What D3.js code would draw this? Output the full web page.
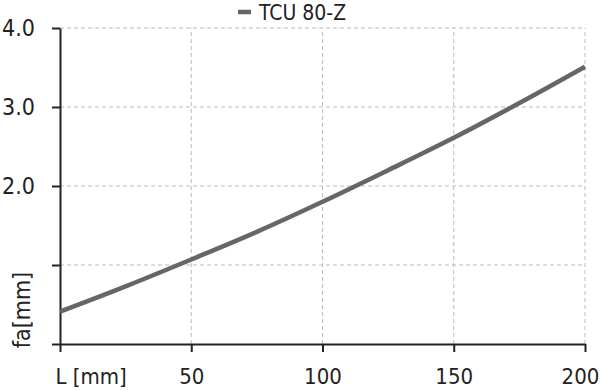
<html>

<head>
    <script src="https://d3js.org/d3.v7.min.js"></script>
</head>

<body style="margin:0;background:white">
    <svg></svg>
    <script>
        // data
        const seriesName = "TCU 80-Z"
        const L = [0, 25, 50, 75, 100, 125, 150, 175, 200]
        const fa = [0.41, 0.73, 1.07, 1.42, 1.80, 2.20, 2.61, 3.05, 3.51]
        const xTicks = [0, 50, 100, 150, 200]
        const yTicks = [0, 1, 2, 3, 4]
        const yTickLabels = ["", "", "2.0", "3.0", "4.0"]
        const xTitle = "L [mm]"
        const yTitle = "fa[mm]"

        const width = 600
        const height = 390
        const marginLeft = 60
        const marginRight = 15
        const marginTop = 28
        const marginBottom = 46
        const font = "'DejaVu Sans Condensed', sans-serif"
        const lineColor = "#666"
        const gridColor = "#bbb"

        const xScale = d3.scaleLinear([0, 200], [marginLeft, width - marginRight])
        const yScale = d3.scaleLinear([0, 4], [height - marginBottom, marginTop])

        const svg = d3.select("svg")
            .attr("width", width)
            .attr("height", height)
            .attr("viewBox", [0, 0, width, height])
            .style("font-family", font)

        // grid
        svg.append("g")
            .selectAll("line")
            .data(xTicks.slice(1))
            .join("line")
            .attr("x1", d => xScale(d)).attr("x2", d => xScale(d))
            .attr("y1", yScale(0)).attr("y2", yScale(4))
            .attr("stroke", gridColor)
            .attr("stroke-dasharray", "4,3")
        svg.append("g")
            .selectAll("line")
            .data(yTicks.slice(1))
            .join("line")
            .attr("x1", xScale(0)).attr("x2", xScale(200))
            .attr("y1", d => yScale(d)).attr("y2", d => yScale(d))
            .attr("stroke", gridColor)
            .attr("stroke-dasharray", "4,3")

        // x axis
        const xAxis = d3.axisBottom(xScale)
            .tickValues(xTicks)
            .tickSize(8)
            .tickSizeOuter(0)
            .tickPadding(16)
            .tickFormat(d => d === 0 ? xTitle : d)
        svg.append("g")
            .attr("transform", `translate(0,${yScale(0)})`)
            .call(xAxis)
            .call(g => g.selectAll("path, line").attr("stroke", "#222").attr("stroke-width", 2))
            .call(g => g.selectAll("text")
                .attr("fill", "#222")
                .attr("font-size", 22)
                .attr("font-family", font)
                .attr("text-anchor", d => d === 0 ? "start" : "middle")
                .attr("dx", d => d === 0 ? -5 : d === 200 ? -5 : 0))

        // y axis
        const yAxis = d3.axisLeft(yScale)
            .tickValues(yTicks)
            .tickSize(8)
            .tickSizeOuter(0)
            .tickPadding(17)
            .tickFormat((d, i) => yTickLabels[i])
        svg.append("g")
            .attr("transform", `translate(${marginLeft},0)`)
            .call(yAxis)
            .call(g => g.selectAll("path, line").attr("stroke", "#222").attr("stroke-width", 2))
            .call(g => g.selectAll("text")
                .attr("fill", "#222")
                .attr("font-size", 23)
                .attr("font-family", font))

        // y title, rotated
        svg.append("text")
            .attr("transform", `translate(30,${yScale(0.43)}) rotate(-90)`)
            .attr("text-anchor", "middle")
            .attr("font-size", 23)
            .attr("fill", "#222")
            .text(yTitle)

        // curve
        const line = d3.line()
            .curve(d3.curveMonotoneX)
            .x((d, i) => xScale(L[i]))
            .y(d => yScale(d))
        svg.append("path")
            .attr("fill", "none")
            .attr("stroke", lineColor)
            .attr("stroke-width", 4.5)
            .attr("d", line(fa))

        // legend
        const legend = svg.append("g").attr("transform", "translate(238,12)")
        legend.append("line")
            .attr("x1", 0).attr("x2", 13)
            .attr("stroke", lineColor)
            .attr("stroke-width", 4.5)
        legend.append("text")
            .attr("x", 21)
            .attr("y", 8)
            .attr("font-size", 21)
            .attr("fill", "#222")
            .text(seriesName)
    </script>
</body>

</html>
